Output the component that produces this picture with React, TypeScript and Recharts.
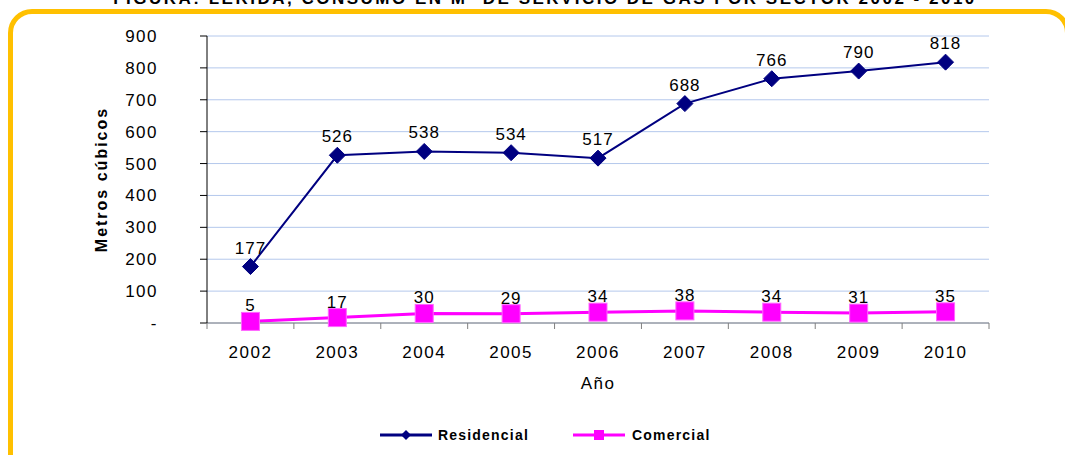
import React from 'react';
import { LineChart, Line, XAxis, YAxis, CartesianGrid, LabelList } from 'recharts';

const years = ['2002', '2003', '2004', '2005', '2006', '2007', '2008', '2009', '2010'];
const residencial = [177, 526, 538, 534, 517, 688, 766, 790, 818];
const comercial = [5, 17, 30, 29, 34, 38, 34, 31, 35];
const yTicks = [0, 100, 200, 300, 400, 500, 600, 700, 800, 900];

const data = years.map((year, i) => ({ year, residencial: residencial[i], comercial: comercial[i] }));

const W = 1065;
const H = 455;
const LEFT = 207;
const RIGHT = 76;
const BAND = (W - LEFT - RIGHT) / years.length;
const FONT = 'Arial, "Liberation Sans", sans-serif';

const Diamond = (props: any) => {
  const { cx, cy, index } = props;
  const r = 8;
  return (
    <path
      key={`d-${index}`}
      d={`M${cx},${cy - r}L${cx + r},${cy}L${cx},${cy + r}L${cx - r},${cy}Z`}
      fill="#000080"
      stroke="#000080"
      strokeWidth={1}
    />
  );
};

const Square = (props: any) => {
  const { cx, cy, index } = props;
  const r = 9;
  return <rect key={`s-${index}`} x={cx - r} y={cy - r} width={r * 2} height={r * 2} fill="#FF00FF" stroke="#FF66FF" strokeWidth={1} />;
};

const XTick = (props: any) => {
  const { x, y, payload, index } = props;
  const half = BAND / 2;
  return (
    <g>
      <line x1={x - half} x2={x - half} y1={y - 8} y2={y - 2} stroke="#808080" />
      {index === years.length - 1 && <line x1={x + half} x2={x + half} y1={y - 8} y2={y - 2} stroke="#808080" />}
      <text x={x} y={y + 27} textAnchor="middle" fontSize={17} fill="#000" fontFamily={FONT} letterSpacing={1.5}>
        {payload.value}
      </text>
    </g>
  );
};

export default function App() {
  return (
    <div style={{ position: 'absolute', left: 0, top: 0, width: W, height: H, overflow: 'hidden', background: '#fff', fontFamily: FONT }}>
      <div
        style={{
          position: 'absolute',
          left: 0,
          width: 1090,
          top: -10,
          textAlign: 'center',
          fontSize: 17,
          fontWeight: 'bold',
          lineHeight: '17px',
          letterSpacing: 2.5,
          whiteSpace: 'nowrap',
        }}
      >
        FIGURA: LERIDA, CONSUMO EN M³ DE SERVICIO DE GAS POR SECTOR 2002 - 2010
      </div>
      <div
        style={{
          position: 'absolute',
          left: 8,
          top: 9,
          width: 1052,
          height: 460,
          border: '5px solid #FFC000',
          borderRadius: 24,
        }}
      />
      <div style={{ position: 'absolute', left: 0, top: 0 }}>
        <LineChart width={W} height={H} data={data} margin={{ top: 36, right: RIGHT, left: 0, bottom: 72 }}>
          <CartesianGrid horizontal vertical={false} stroke="#B4C8EC" />
          <XAxis
            dataKey="year"
            height={60}
            stroke="#808080"
            tickLine={false}
            tick={<XTick />}
            interval={0}
            padding={{ left: BAND / 2, right: BAND / 2 }}
            label={{ value: 'Año', position: 'insideBottom', offset: -6, fontSize: 17, fill: '#000', fontFamily: FONT, letterSpacing: 1.5 } as any}
          />
          <YAxis
            width={LEFT}
            domain={[0, 900]}
            ticks={yTicks}
            interval={0}
            stroke="#000"
            tickSize={7}
            tickMargin={42}
            tick={{ fontSize: 17, fill: '#000', fontFamily: FONT, letterSpacing: 1.5 } as any}
            tickFormatter={(v: number) => (v === 0 ? '-' : String(v))}
            label={{
              value: 'Metros cúbicos',
              angle: -90,
              position: 'center',
              dx: -2,
              fontSize: 16,
              fontWeight: 'bold',
              fill: '#000',
              fontFamily: FONT,
              letterSpacing: 2,
            } as any}
          />
          <Line
            dataKey="residencial"
            stroke="#000080"
            strokeWidth={2}
            dot={<Diamond />}
            activeDot={false}
            isAnimationActive={false}
          >
            <LabelList dataKey="residencial" position="top" offset={13} fontSize={17} fill="#000" fontFamily={FONT} letterSpacing={1} />
          </Line>
          <Line
            dataKey="comercial"
            stroke="#FF00FF"
            strokeWidth={3}
            dot={<Square />}
            activeDot={false}
            isAnimationActive={false}
          >
            <LabelList dataKey="comercial" position="top" offset={10} fontSize={17} fill="#000" fontFamily={FONT} letterSpacing={1} />
          </Line>
        </LineChart>
      </div>
      <svg style={{ position: 'absolute', left: 0, top: 0 }} width={W} height={H}>
        <line x1={380} x2={432} y1={435} y2={435} stroke="#000080" strokeWidth={3} />
        <path d="M406,430L411,435L406,440L401,435Z" fill="#000080" />
        <text x={438} y={440} fontSize={14} fontWeight="bold" fontFamily={FONT} letterSpacing={1.2} fill="#000">
          Residencial
        </text>
        <line x1={573} x2={625} y1={435} y2={435} stroke="#FF00FF" strokeWidth={3} />
        <rect x={594} y={430} width={10} height={10} fill="#FF00FF" />
        <text x={632} y={440} fontSize={14} fontWeight="bold" fontFamily={FONT} letterSpacing={1.2} fill="#000">
          Comercial
        </text>
      </svg>
    </div>
  );
}
